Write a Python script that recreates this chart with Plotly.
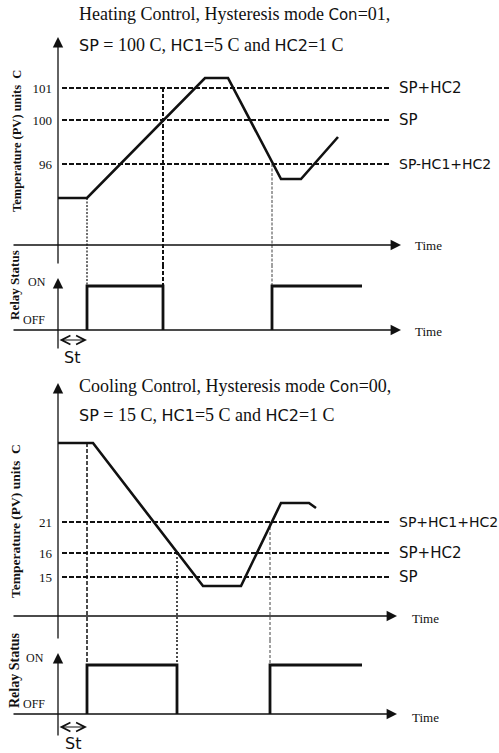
import plotly.graph_objects as go

W, H = 499, 753
SERIF = "Liberation Serif, Times New Roman, serif"
SEG = "DejaVu Sans, sans-serif"
INK = "#111111"

# ---------------- data (schematic levels, time units) ----------------
heat_levels = [157, 125, 81]
heat_level_text = ["101", "100", "96"]
heat_level_names = ["SP+HC2", "SP", "SP-HC1+HC2"]
heat_pv_t = [0, 29, 147, 170, 223, 243, 280]
heat_pv = [47, 47, 167, 167, 66, 66, 108]
heat_relay_t = [29, 29, 105, 105, None, 214, 214, 304]
heat_relay = [0, 1, 1, 0, None, 0, 1, 1]
heat_guide_t = [29, 105, 214]
heat_guide_from = [47, 157, 81]

cool_levels = [94, 63, 39]
cool_level_text = ["21", "16", "15"]
cool_level_names = ["SP+HC1+HC2", "SP+HC2", "SP"]
cool_pv_t = [0, 35, 145, 183, 223, 251, 258]
cool_pv = [173, 173, 30, 30, 113, 113, 108]
cool_relay_t = [29, 29, 119, 119, None, 212, 212, 304]
cool_relay = [0, 1, 1, 0, None, 0, 1, 1]
cool_guide_t = [29, 119, 212]
cool_guide_from = [173, 63, 94]

st_time = 29
level_line_t = [4, 332]

# ---------------- layout helpers (pixel geometry) ----------------
X0 = 58  # pixel column of the vertical axes
XR = [-X0, W - X0]


def ydom(top, bot):
    return [1 - bot / H, 1 - top / H]


def yrng(top, bot, origin, ppu):
    return [(origin - bot) / ppu, (origin - top) / ppu]


def P(x, y):
    return x / W, 1 - y / H


panels = {
    "heat": dict(temp=(30, 265, 245), relay=(265, 362, 330, 44),
                 ytip=37, yrtip=278, yrbot=350, xtip=401, sty=340),
    "cool": dict(temp=(375, 640, 616), relay=(640, 753, 714, 49),
                 ytip=383, yrtip=653, yrbot=737, xtip=397, sty=727),
}

fig = go.Figure()
ann = []


def arrow(xr, yr, x0, y0, x1, y1, width=1.3, head=2, size=1.6, both=False):
    d = dict(x=x1, y=y1, ax=x0, ay=y0, xref=xr, yref=yr, axref=xr, ayref=yr,
             text="", showarrow=True, arrowhead=head, arrowsize=size,
             arrowwidth=width, arrowcolor=INK, standoff=0, startstandoff=0)
    if both:
        d.update(arrowside="end+start", startarrowhead=head, startarrowsize=size)
    return d


def text(x, y, s, size, family=SERIF, xanchor="left", angle=0):
    px, py = P(x, y)
    return dict(x=px, y=py, xref="paper", yref="paper", text=s, showarrow=False,
                xanchor=xanchor, yanchor="middle", textangle=angle,
                font=dict(family=family, size=size, color=INK))


def seg(s, size=15):
    return f"<span style='font-family:DejaVu Sans;font-size:{size}px'>{s}</span>"


specs = [
    ("heat", "x", "y", "x2", "y2", heat_levels, heat_level_text, heat_level_names,
     heat_pv_t, heat_pv, heat_relay_t, heat_relay, heat_guide_t, heat_guide_from,
     [dict(width=1.2, dash="2px,1.5px"), dict(width=2, dash="4px,2px"), dict(width=0.8, dash="3px,1.5px")]),
    ("cool", "x3", "y3", "x4", "y4", cool_levels, cool_level_text, cool_level_names,
     cool_pv_t, cool_pv, cool_relay_t, cool_relay, cool_guide_t, cool_guide_from,
     [dict(width=1.5, dash="4px,2px"), dict(width=1.5, dash="2px,2px"), dict(width=0.8, dash="3px,2px")]),
]

layout_axes = {}
for (name, xt, yt, xr_, yr_, levels, ltxt, lnames, pvt, pv, rt, rv, gt, gfrom, gstyle) in specs:
    p = panels[name]
    ttop, tbot, torig = p["temp"]
    rtop, rbot, rorig, ppu = p["relay"]
    trng = yrng(ttop, tbot, torig, 1)
    rrng = yrng(rtop, rbot, rorig, ppu)

    # level lines
    for lv in levels:
        fig.add_trace(go.Scatter(x=level_line_t, y=[lv, lv], mode="lines", xaxis=xt, yaxis=yt,
                                 line=dict(color=INK, width=2.2, dash="5px,2px"),
                                 showlegend=False, hoverinfo="skip"))
    # guides (split across temp & relay axes)
    for t, g0, st in zip(gt, gfrom, gstyle):
        fig.add_trace(go.Scatter(x=[t, t], y=[g0, trng[0]], mode="lines", xaxis=xt, yaxis=yt,
                                 line=dict(color=INK, **st), showlegend=False, hoverinfo="skip"))
        fig.add_trace(go.Scatter(x=[t, t], y=[rrng[1], 1], mode="lines", xaxis=xr_, yaxis=yr_,
                                 line=dict(color=INK, **st), showlegend=False, hoverinfo="skip"))
    # PV curve
    fig.add_trace(go.Scatter(x=pvt, y=pv, mode="lines", xaxis=xt, yaxis=yt,
                             line=dict(color=INK, width=2.6), showlegend=False, hoverinfo="skip"))
    # relay
    fig.add_trace(go.Scatter(x=rt, y=rv, mode="lines", xaxis=xr_, yaxis=yr_,
                             line=dict(color=INK, width=2.8), showlegend=False, hoverinfo="skip",
                             connectgaps=False))

    # axes arrows
    xtip = p["xtip"] - X0
    ann.append(arrow(xt, yt, 0, trng[0], 0, torig - p["ytip"]))
    ann.append(arrow(xt, yt, -46, 0, xtip, 0))
    ann.append(arrow(xr_, yr_, 0, (rorig - p["yrbot"]) / ppu, 0, (rorig - p["yrtip"]) / ppu))
    ann.append(arrow(xr_, yr_, -46, 0, xtip, 0))
    sy = (rorig - p["sty"]) / ppu
    ann.append(arrow(xr_, yr_, 0, sy, st_time, sy, width=1.1, head=5, size=1.6, both=True))

    # right labels
    for lv, nm in zip(levels, lnames):
        ann.append(dict(x=339, y=lv, xref=xt, yref=yt, text=nm, showarrow=False,
                        xanchor="left", yanchor="middle",
                        font=dict(family=SEG, size=14 if len(nm) > 8 else 15, color=INK)))

    layout_axes["xaxis" + xt[1:]] = dict(domain=[0, 1], range=XR, visible=False, anchor=yt)
    layout_axes["xaxis" + xr_[1:]] = dict(domain=[0, 1], range=XR, visible=False, anchor=yr_)
    layout_axes["yaxis" + yt[1:]] = dict(domain=ydom(ttop, tbot), range=trng, anchor="free",
                                         position=X0 / W, showgrid=False, zeroline=False,
                                         showline=False, ticks="", tickvals=levels, ticktext=ltxt,
                                         ticklabelstandoff=6,
                                         tickfont=dict(family=SERIF, size=13, color=INK))
    layout_axes["yaxis" + yr_[1:]] = dict(domain=ydom(rtop, rbot), range=rrng, visible=False,
                                          anchor=xr_)

# titles and labels
ann += [
    text(77, 14, "Heating Control, Hysteresis mode " + seg("Con") + "=01,", 18),
    text(77, 45, seg("SP", 16) + " = 100 C, " + seg("HC1", 16) + "=5 C and " + seg("HC2", 16) + "=1 C", 18),
    text(77, 386, "Cooling Control, Hysteresis mode " + seg("Con") + "=00,", 18),
    text(77, 415, seg("SP", 16) + " = 15 C, " + seg("HC1", 16) + "=5 C and " + seg("HC2", 16) + "=1 C", 18),
    text(17, 141, "<b>Temperature (PV) units  C</b>", 12.5, xanchor="center", angle=-90),
    text(14, 285, "<b>Relay Status</b>", 13, xanchor="center", angle=-90),
    text(15, 521, "<b>Temperature (PV) units  C</b>", 13.5, xanchor="center", angle=-90),
    text(14, 670, "<b>Relay Status</b>", 14, xanchor="center", angle=-90),
    text(413, 246, "Time", 13), text(413, 331, "Time", 13),
    text(410, 618, "Time", 13), text(410, 717, "Time", 13),
    text(26, 282, "ON", 12), text(21, 320, "OFF", 12),
    text(24, 658, "ON", 12), text(21, 704, "OFF", 12),
    text(72, 357, "St", 16, family=SEG, xanchor="center"),
    text(73, 743, "St", 16, family=SEG, xanchor="center"),
]

fig.update_layout(width=W, height=H, margin=dict(l=0, r=0, t=0, b=0),
                  paper_bgcolor="white", plot_bgcolor="rgba(0,0,0,0)",
                  showlegend=False, annotations=ann, **layout_axes)

fig.write_html("out.html", config={"displayModeBar": False},
               post_script="document.body.style.margin='0px';document.body.style.overflow='hidden';")
